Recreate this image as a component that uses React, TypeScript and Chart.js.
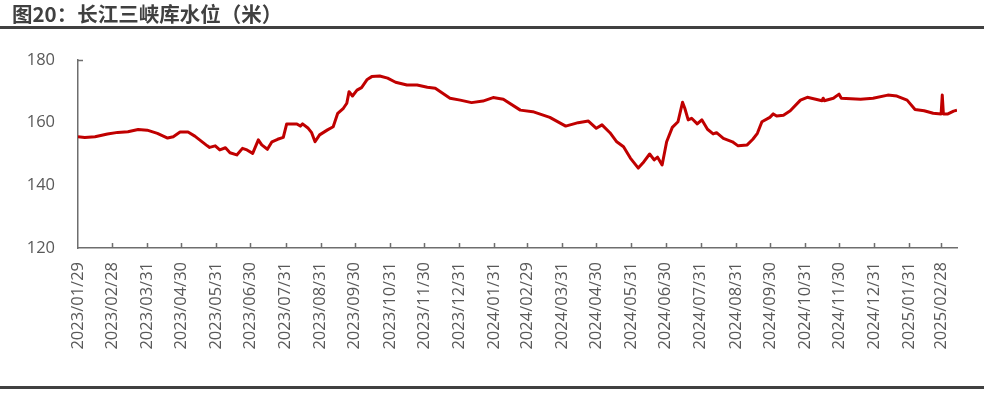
import React, { useEffect, useRef } from 'react';
import { Chart, registerables } from 'chart.js';

Chart.register(...registerables);

// Day offsets counted from 2023/01/29
const START_LABEL = '2023/01/29';
const X_MAX_DAY = 775;

const tickLabels = [
  '2023/01/29', '2023/02/28', '2023/03/31', '2023/04/30', '2023/05/31', '2023/06/30',
  '2023/07/31', '2023/08/31', '2023/09/30', '2023/10/31', '2023/11/30', '2023/12/31',
  '2024/01/31', '2024/02/29', '2024/03/31', '2024/04/30', '2024/05/31', '2024/06/30',
  '2024/07/31', '2024/08/31', '2024/09/30', '2024/10/31', '2024/11/30', '2024/12/31',
  '2025/01/31', '2025/02/28',
];

const yTickValues = [120, 140, 160, 180];

const dayOffsets = [
  0, 6, 15, 26, 35, 44, 53, 61, 70, 79, 84, 90, 97, 103, 114, 116, 121, 125, 130, 134,
  140, 145, 149, 154, 159, 162, 167, 171, 176, 181, 184, 189, 193, 196, 198, 203, 206, 209, 213, 220,
  225, 229, 234, 237, 239, 242, 246, 250, 255, 259, 266, 273, 280, 290, 299, 308, 315, 328, 337, 347,
  357, 366, 375, 390, 401, 416, 430, 441, 450, 457, 462, 469, 475, 481, 487, 494, 498, 504, 508, 511,
  515, 519, 524, 529, 533, 535, 538, 541, 546, 550, 555, 560, 563, 569, 577, 582, 590, 595, 599, 603,
  610, 613, 616, 622, 628, 637, 643, 656, 657, 658, 666, 671, 673, 690, 701, 714, 722, 731, 738, 746,
  754, 761, 762, 763, 767, 772, 775,
];

const levels = [
  155.5, 155.3, 155.5, 156.4, 156.9, 157.1, 157.8, 157.6, 156.6, 155.1, 155.5, 157.0, 157.0, 155.7, 152.6, 152.1, 152.6, 151.3, 152.0, 150.4,
  149.7, 151.8, 151.3, 150.2, 154.5, 152.9, 151.5, 153.9, 154.7, 155.3, 159.6, 159.6, 159.6, 158.9, 159.6, 158.2, 156.8, 153.9, 156.1, 157.7,
  158.7, 163.0, 164.6, 166.2, 169.9, 168.5, 170.4, 171.2, 173.8, 174.7, 174.9, 174.2, 172.9, 172.0, 172.0, 171.3, 171.0, 167.8, 167.2, 166.4,
  166.9, 168.0, 167.5, 164.0, 163.5, 161.7, 158.9, 160.0, 160.5, 158.2, 159.3, 156.8, 153.9, 152.3, 148.7, 145.5, 147.1, 150.0, 148.1, 149.0,
  146.5, 153.9, 158.5, 160.3, 166.5, 164.6, 160.9, 161.4, 159.6, 160.9, 157.9, 156.4, 156.8, 155.0, 153.9, 152.6, 152.9, 154.7, 156.6, 160.3,
  161.7, 162.8, 162.1, 162.4, 163.8, 167.2, 168.1, 167.0, 167.8, 167.0, 167.8, 169.1, 167.8, 167.5, 167.8, 168.8, 168.5, 167.2, 164.2, 163.8,
  163.0, 162.8, 168.8, 162.8, 162.8, 163.7, 164.0,
];

function dayOf(label: string): number {
  const [y, m, d] = label.split('/').map(Number);
  const [y0, m0, d0] = START_LABEL.split('/').map(Number);
  return Math.round((Date.UTC(y, m - 1, d) - Date.UTC(y0, m0 - 1, d0)) / 86400000);
}

const tickDays = tickLabels.map(dayOf);

const AXIS_COLOR = '#6e6e6e';
const LABEL_COLOR = '#595959';
const LABEL_FONT = { family: '"Open Sans", "DejaVu Sans", sans-serif', size: 16.5 };

const innerTicks = {
  id: 'innerTicks',
  afterDraw(chart: any) {
    const { ctx, chartArea, scales } = chart;
    const xs = scales.x;
    const ys = scales.y;
    ctx.save();
    ctx.strokeStyle = AXIS_COLOR;
    ctx.lineWidth = 1.5;
    ctx.beginPath();
    xs.ticks.forEach((t: any) => {
      if (t.value === 0) return;
      const px = Math.round(xs.getPixelForValue(t.value)) + 0.5;
      ctx.moveTo(px, chartArea.bottom);
      ctx.lineTo(px, chartArea.bottom - 5);
    });
    const py = Math.round(ys.getPixelForValue(180)) + 0.5;
    ctx.moveTo(chartArea.left, py);
    ctx.lineTo(chartArea.left + 5, py);
    ctx.stroke();
    ctx.restore();
  },
};

export default function App() {
  const canvasRef = useRef<HTMLCanvasElement | null>(null);

  useEffect(() => {
    const canvas = canvasRef.current;
    if (!canvas) return;
    const chart = new Chart(canvas, {
      type: 'line',
      data: {
        datasets: [
          {
            data: dayOffsets.map((d, i) => ({ x: d, y: levels[i] })),
            borderColor: '#C00000',
            borderWidth: 3,
            pointRadius: 0,
            tension: 0,
            fill: false,
            borderJoinStyle: 'round',
          },
        ],
      },
      options: {
        animation: false,
        responsive: false,
        devicePixelRatio: 1,
        layout: { padding: { top: 60, right: 27, bottom: 0, left: 0 } },
        plugins: {
          legend: { display: false },
          tooltip: { enabled: false },
          title: { display: false },
        },
        scales: {
          x: {
            type: 'linear',
            min: 0,
            max: X_MAX_DAY,
            afterBuildTicks: (s: any) => {
              s.ticks = tickDays.map((v) => ({ value: v }));
            },
            afterFit: (s: any) => {
              s.height = 145;
            },
            grid: { display: true, drawOnChartArea: false, drawTicks: false },
            border: { display: true, color: AXIS_COLOR, width: 1.5 },
            ticks: {
              autoSkip: false,
              minRotation: 90,
              maxRotation: 90,
              padding: 14,
              color: LABEL_COLOR,
              font: LABEL_FONT,
              callback: (_v: any, i: number) => tickLabels[i],
            },
          },
          y: {
            type: 'linear',
            min: 120,
            max: 180,
            afterBuildTicks: (s: any) => {
              s.ticks = yTickValues.map((v) => ({ value: v }));
            },
            afterFit: (s: any) => {
              s.width = 78;
            },
            grid: { display: true, drawOnChartArea: false, drawTicks: false },
            border: { display: true, color: AXIS_COLOR, width: 1.5 },
            ticks: {
              padding: 23,
              color: LABEL_COLOR,
              font: LABEL_FONT,
              callback: (v: any) => String(v),
            },
          },
        },
      } as any,
      plugins: [innerTicks],
    });
    return () => chart.destroy();
  }, []);

  return (
    <div
      style={{
        position: 'fixed',
        left: 0,
        top: 0,
        width: 984,
        height: 393,
        background: '#ffffff',
        overflow: 'hidden',
      }}
    >
      <canvas
        ref={canvasRef}
        width={984}
        height={393}
        style={{ position: 'absolute', left: 0, top: 0, width: 984, height: 393 }}
      />
      <div
        style={{
          position: 'absolute',
          left: 12,
          top: 1,
          fontFamily: '"Noto Sans CJK SC", sans-serif',
          fontWeight: 700,
          fontSize: 20.5,
          lineHeight: '24px',
          color: '#404040',
          whiteSpace: 'nowrap',
        }}
      >
        图20：长江三峡库水位（米）
      </div>
      <div style={{ position: 'absolute', left: 0, top: 26, width: 984, height: 3, background: '#404040' }} />
      <div style={{ position: 'absolute', left: 0, top: 386, width: 984, height: 3, background: '#404040' }} />
    </div>
  );
}
